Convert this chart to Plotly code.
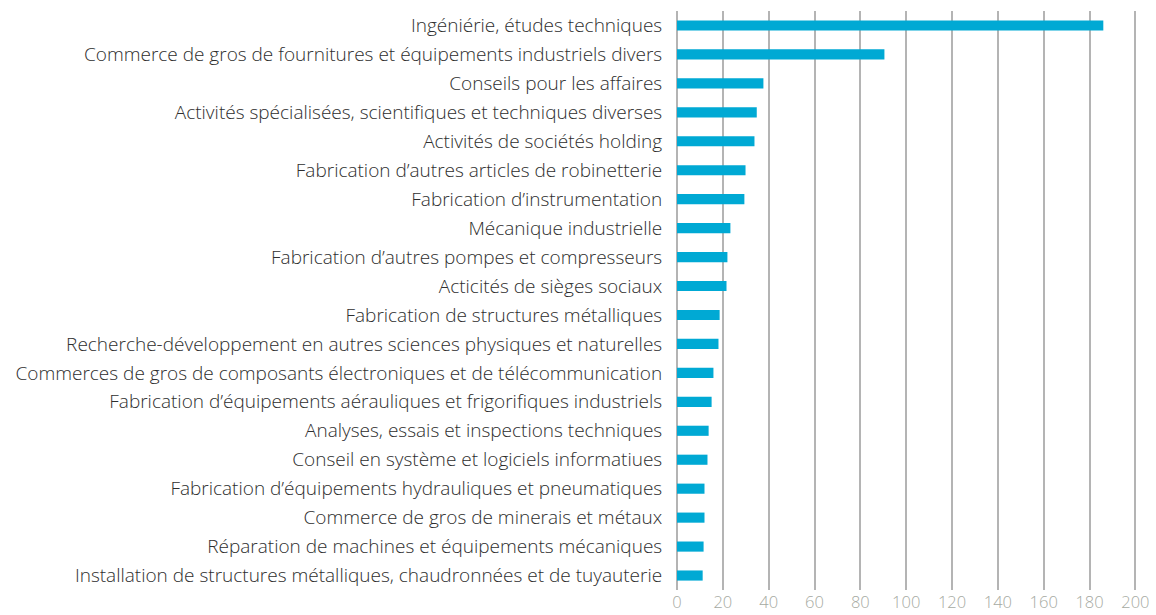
import plotly.graph_objects as go

categories = [
    "Ingéniérie, études techniques",
    "Commerce de gros de fournitures et équipements industriels divers",
    "Conseils pour les affaires",
    "Activités spécialisées, scientifiques et techniques diverses",
    "Activités de sociétés holding",
    "Fabrication d’autres articles de robinetterie",
    "Fabrication d’instrumentation",
    "Mécanique industrielle",
    "Fabrication d’autres pompes et compresseurs",
    "Acticités de sièges sociaux",
    "Fabrication de structures métalliques",
    "Recherche-développement en autres sciences physiques et naturelles",
    "Commerces de gros de composants électroniques et de télécommunication",
    "Fabrication d’équipements aérauliques et frigorifiques industriels",
    "Analyses, essais et inspections techniques",
    "Conseil en système et logiciels informatiues",
    "Fabrication d’équipements hydrauliques et pneumatiques",
    "Commerce de gros de minerais et métaux",
    "Réparation de machines et équipements mécaniques",
    "Installation de structures métalliques, chaudronnées et de tuyauterie",
]
values = [186, 90.5, 37.7, 34.8, 33.8, 29.9, 29.4, 23.3, 22.0, 21.6,
          18.6, 18.1, 15.9, 15.1, 13.8, 13.3, 12.0, 12.0, 11.6, 11.2]
x_ticks = [0, 20, 40, 60, 80, 100, 120, 140, 160, 180, 200]

fig = go.Figure(go.Bar(
    x=values,
    y=categories,
    orientation="h",
    marker=dict(color="#00A9D4", line=dict(width=0)),
    width=0.35,
))

fig.update_layout(
    width=1156,
    height=615,
    margin=dict(l=677, r=7.5, t=10.5, b=24.5, autoexpand=False),
    paper_bgcolor="white",
    plot_bgcolor="white",
    font=dict(family="Open Sans", weight=300),
    showlegend=False,
)
fig.update_xaxes(
    range=[0, 205.5],
    tickvals=x_ticks,
    automargin=False,
    showgrid=True,
    gridcolor="#b4b4b4",
    gridwidth=1.5,
    zeroline=True,
    zerolinecolor="#b4b4b4",
    zerolinewidth=1.5,
    tickfont=dict(size=16.5, color="#a6aaa2", family="Open Sans", weight=300),
    ticks="",
    showline=False,
)
fig.update_yaxes(
    autorange="reversed",
    automargin=False,
    tickfont=dict(size=19, color="#2e2e2e", family="Open Sans", weight=300),
    ticks="outside",
    ticklen=10,
    tickcolor="rgba(0,0,0,0)",
    showgrid=False,
    showline=False,
)

# remove the default 8px page margin so the figure fills the window exactly
fig.write_html(
    "out.html",
    config={"displayModeBar": False},
    post_script="document.body.style.margin='0px';document.body.style.overflow='hidden';",
)
